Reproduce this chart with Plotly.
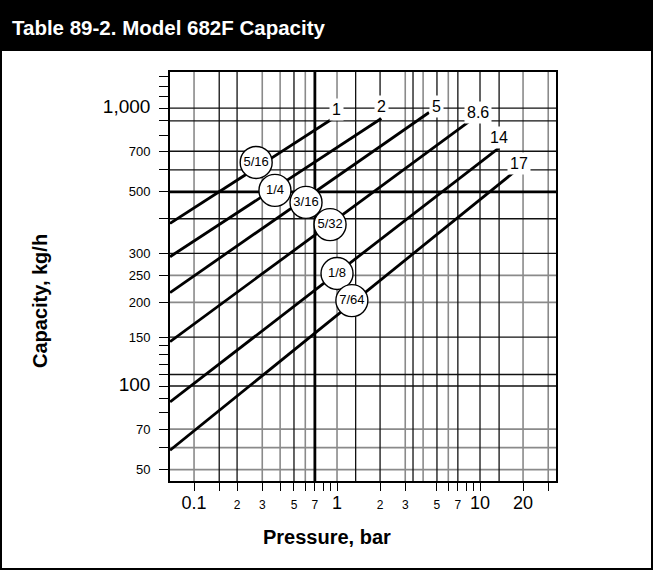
import numpy as np
import plotly.graph_objects as go

# ---------------- data ----------------
orifice_labels = ["5/16", "1/4", "3/16", "5/32", "1/8", "7/64"]
end_labels = ["1", "2", "5", "8.6", "14", "17"]

line_p_start = [0.068, 0.068, 0.068, 0.068, 0.068, 0.068]
line_c_start = [385, 292, 217, 144.5, 87.6, 58.7]
line_p_end = [0.935, 2.04, 4.40, 8.51, 13.65, 17.1]
line_c_end = [918, 918, 965, 900, 721, 586]

circle_p = [0.272, 0.368, 0.607, 0.894, 1.0, 1.27]
circle_c = [638, 506, 458, 381, 254, 203]

label_p = [0.987, 2.04, 4.99, 9.66, 13.65, 18.8]
label_c = [986, 1014, 1014, 965, 784, 633]

x_tick_vals = [0.1, 0.15, 0.2, 0.3, 0.4, 0.5, 0.6, 0.7, 0.8, 0.9, 1,
               2, 3, 5, 6, 7, 8, 9, 10, 20, 30]
x_tick_text = ["0.1", "", "2", "3", "", "5", "", "7", "", "", "1",
               "2", "3", "5", "", "7", "", "", "10", "20", ""]
x_tick_big = ["0.1", "1", "10", "20"]

y_tick_vals = [50, 60, 70, 80, 90, 100, 110, 120, 130, 140, 150, 200, 250,
               300, 400, 500, 600, 700, 800, 900, 1000, 1100, 1200, 1300]
y_tick_text = ["50", "", "70", "", "", "100", "", "", "", "", "150", "200", "250",
               "300", "", "500", "", "700", "", "", "1,000", "", "", ""]
y_tick_big = ["100", "1,000"]

x_grid_black = [0.15, 0.2, 0.5, 1.35, 2, 3.4, 5, 7, 10, 13.6]
x_grid_gray = [0.1, 0.3, 0.4, 0.6, 1, 3, 4, 6, 20, 30]
x_grid_heavy = [0.7]
y_grid_black = [100, 110, 150, 300, 400, 600, 700, 900, 1000]
y_grid_gray = [50, 60, 70, 200, 250]
y_grid_heavy = [500]

x_range = [0.0679, 34.0]
y_range = [45.5, 1350]

# ---------------- figure ----------------
W, H = 653, 570
ML, MR, MT, MB = 170, 97, 72, 89
PW, PH = W - ML - MR, H - MT - MB


def px(xp):
    return (xp - ML) / PW


def py(yp):
    return (H - MB - yp) / PH


fig = go.Figure()


def vlines(vals, color, width):
    xs, ys = [], []
    for v in vals:
        xs += [v, v, None]
        ys += [y_range[0], y_range[1], None]
    fig.add_trace(go.Scatter(x=xs, y=ys, mode="lines", hoverinfo="skip",
                             line=dict(color=color, width=width), showlegend=False))


def hlines(vals, color, width):
    xs, ys = [], []
    for v in vals:
        xs += [x_range[0], x_range[1], None]
        ys += [v, v, None]
    fig.add_trace(go.Scatter(x=xs, y=ys, mode="lines", hoverinfo="skip",
                             line=dict(color=color, width=width), showlegend=False))


vlines(x_grid_gray, "#8a8a8a", 1.6)
hlines(y_grid_gray, "#8a8a8a", 1.8)
vlines(x_grid_black, "#111111", 1.3)
hlines(y_grid_black, "#111111", 1.3)
vlines(x_grid_heavy, "#000000", 2.8)
hlines(y_grid_heavy, "#000000", 2.6)

for i in range(len(orifice_labels)):
    fig.add_trace(go.Scatter(
        x=[line_p_start[i], line_p_end[i]], y=[line_c_start[i], line_c_end[i]],
        mode="lines", line=dict(color="black", width=2.8),
        showlegend=False, hoverinfo="skip"))

fig.add_trace(go.Scatter(
    x=circle_p, y=circle_c, mode="markers+text", text=orifice_labels,
    textposition="middle center",
    textfont=dict(family="Liberation Sans Narrow, Liberation Sans, Arial", size=13, color="black"),
    marker=dict(size=32, color="white", line=dict(color="black", width=1.4)),
    showlegend=False, hoverinfo="skip", cliponaxis=False))

for t, p, c in zip(end_labels, label_p, label_c):
    fig.add_annotation(x=np.log10(p), y=np.log10(c), xref="x", yref="y", text=t,
                       showarrow=False, bgcolor="white", borderpad=2,
                       font=dict(family="Liberation Sans, Arial", size=16, color="black"))


def tick_fmt(texts, big, big_size, small_size):
    out = []
    for t in texts:
        if t == "":
            out.append("")
        elif t in big:
            out.append('<span style="font-size:%dpx">%s</span>' % (big_size, t))
        else:
            out.append('<span style="font-size:%dpx">%s</span>' % (small_size, t))
    return out


fig.update_xaxes(type="log", range=[np.log10(x_range[0]), np.log10(x_range[1])],
                 tickvals=x_tick_vals, ticktext=tick_fmt(x_tick_text, x_tick_big, 18, 12),
                 ticks="outside", ticklen=8, tickwidth=1.2, tickcolor="black",
                 ticklabelstandoff=4,
                 showgrid=False, zeroline=False,
                 showline=True, mirror=True, linecolor="black", linewidth=2,
                 tickfont=dict(family="Liberation Sans, Arial", color="black", size=12))
fig.update_yaxes(type="log", range=[np.log10(y_range[0]), np.log10(y_range[1])],
                 tickvals=y_tick_vals, ticktext=tick_fmt(y_tick_text, y_tick_big, 19, 13),
                 ticks="outside", ticklen=9, tickwidth=1.2, tickcolor="black",
                 ticklabelstandoff=6,
                 showgrid=False, zeroline=False,
                 showline=True, mirror=True, linecolor="black", linewidth=2,
                 tickfont=dict(family="Liberation Sans, Arial", color="black", size=13))

# header band, title, outer border, axis titles
fig.add_shape(type="rect", xref="paper", yref="paper",
              x0=px(0), x1=px(W), y0=py(51), y1=py(0),
              fillcolor="black", line=dict(width=0), layer="above")
fig.add_shape(type="rect", xref="paper", yref="paper",
              x0=px(1), x1=px(W - 1), y0=py(H - 1), y1=py(1),
              fillcolor="rgba(0,0,0,0)", line=dict(color="black", width=2), layer="above")
fig.add_annotation(xref="paper", yref="paper", x=px(10), y=py(27), xanchor="left", yanchor="middle",
                   text="<b>Table 89-2. Model 682F Capacity</b>", showarrow=False,
                   font=dict(family="Liberation Sans, Arial", size=20.5, color="white"))
fig.add_annotation(xref="paper", yref="paper", x=px(327), y=py(537), xanchor="center", yanchor="middle",
                   text="<b>Pressure, bar</b>", showarrow=False,
                   font=dict(family="Liberation Sans, Arial", size=20, color="black"))
fig.add_annotation(xref="paper", yref="paper", x=px(40), y=py(301), xanchor="center", yanchor="middle",
                   text="<b>Capacity, kg/h</b>", showarrow=False, textangle=-90,
                   font=dict(family="Liberation Sans, Arial", size=20, color="black"))

fig.update_layout(width=W, height=H, margin=dict(l=ML, r=MR, t=MT, b=MB),
                  paper_bgcolor="white", plot_bgcolor="white", showlegend=False)

fig.write_html("out.html", config={"displayModeBar": False},
               post_script="document.body.style.margin='0';document.body.style.overflow='hidden';")
